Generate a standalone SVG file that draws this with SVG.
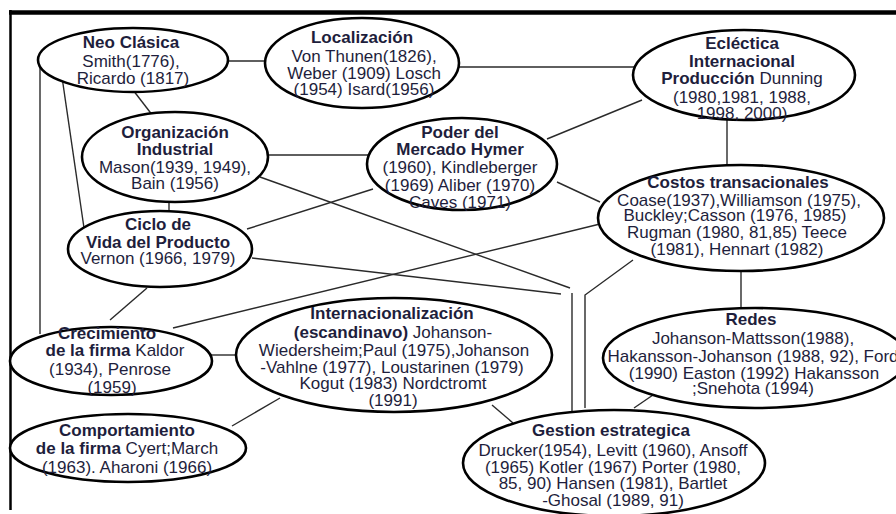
<svg xmlns="http://www.w3.org/2000/svg" width="896" height="514" viewBox="0 0 896 514">
<style>
.frame{stroke:#000;fill:none}
.c line,.c polyline{stroke:#2a2a2a;stroke-width:1.4;fill:none}
.n ellipse{fill:#fff;stroke:#000;stroke-width:2.6}
.n text{font-family:"Liberation Sans",Arial,sans-serif;font-size:17px;fill:#1e1e3c;text-anchor:middle}
.b{font-weight:bold}
</style>
<rect width="896" height="514" fill="#fff"/>
<line class="frame" x1="9" y1="12.5" x2="896" y2="12.5" stroke-width="4.5"/>
<line class="frame" x1="10.5" y1="10" x2="10.5" y2="510" stroke-width="2.5"/>
<g id="connectors" class="c">
<line x1="226" y1="61" x2="266" y2="61"/>
<line x1="458" y1="67" x2="635" y2="67"/>
<line x1="133" y1="90" x2="153" y2="116"/>
<line x1="62" y1="77" x2="84" y2="228"/>
<line x1="40" y1="62" x2="40" y2="334"/>
<line x1="266" y1="155" x2="369" y2="155"/>
<line x1="169" y1="200" x2="169" y2="213"/>
<line x1="260" y1="177" x2="570" y2="288"/>
<line x1="247" y1="229" x2="373" y2="189"/>
<line x1="252" y1="258" x2="561" y2="294"/>
<line x1="572" y1="293" x2="572" y2="412"/>
<polyline points="633,260 585,295 585,408"/>
<line x1="547" y1="139" x2="642" y2="100"/>
<line x1="557" y1="182" x2="600" y2="202"/>
<line x1="727" y1="118" x2="727" y2="167"/>
<line x1="741" y1="270" x2="741" y2="310"/>
<line x1="600" y1="224" x2="173" y2="328"/>
<line x1="147" y1="288" x2="110" y2="320"/>
<line x1="210" y1="355" x2="238" y2="355"/>
<line x1="232" y1="426" x2="280" y2="398"/>
<line x1="492" y1="405" x2="513" y2="423"/>
<line x1="653" y1="395" x2="634" y2="408"/>
</g>
<g id="neo-clasica" class="n">
<ellipse cx="133" cy="60" rx="95" ry="32"/>
<text x="131" y="48"><tspan class="b">Neo Clásica</tspan><tspan x="131" dy="19">Smith(1776),</tspan><tspan x="133" dy="17">Ricardo (1817)</tspan></text>
</g>
<g id="localizacion" class="n">
<ellipse cx="362" cy="63" rx="97" ry="45"/>
<text x="362" y="43"><tspan class="b">Localización</tspan><tspan x="364" dy="19">Von Thunen(1826),</tspan><tspan x="364" dy="17">Weber (1909) Losch</tspan><tspan x="364" dy="16">(1954) Isard(1956)</tspan></text>
</g>
<g id="eclectica" class="n">
<ellipse cx="744" cy="75" rx="111" ry="45"/>
<text x="742" y="49"><tspan class="b">Ecléctica</tspan><tspan x="742" dy="18" class="b">Internacional</tspan><tspan x="742" dy="17"><tspan class="b">Producción</tspan> Dunning</tspan><tspan x="742" dy="19">(1980,1981, 1988,</tspan><tspan x="742" dy="16">1998, 2000)</tspan></text>
</g>
<g id="organizacion-industrial" class="n">
<ellipse cx="175" cy="157" rx="93" ry="45"/>
<text x="175" y="138"><tspan class="b">Organización</tspan><tspan x="175" dy="17" class="b">Industrial</tspan><tspan x="175" dy="18">Mason(1939, 1949),</tspan><tspan x="175" dy="16">Bain (1956)</tspan></text>
</g>
<g id="ciclo-de-vida" class="n">
<ellipse cx="160" cy="249" rx="92" ry="38"/>
<text x="158" y="230"><tspan class="b">Ciclo de</tspan><tspan x="158" dy="18" class="b">Vida del Producto</tspan><tspan x="158" dy="16">Vernon (1966, 1979)</tspan></text>
</g>
<g id="poder-del-mercado" class="n">
<ellipse cx="462" cy="164" rx="95" ry="46"/>
<text x="460" y="138"><tspan class="b">Poder del</tspan><tspan x="460" dy="17" class="b">Mercado Hymer</tspan><tspan x="460" dy="18">(1960), Kindleberger</tspan><tspan x="460" dy="18">(1969) Aliber (1970)</tspan><tspan x="460" dy="17">Caves (1971)</tspan></text>
</g>
<g id="costos-transaccionales" class="n">
<ellipse cx="741" cy="218" rx="143" ry="53"/>
<text x="738" y="188"><tspan class="b">Costos transacionales</tspan><tspan x="739" dy="18">Coase(1937),Williamson (1975),</tspan><tspan x="735" dy="15">Buckley;Casson (1976, 1985)</tspan><tspan x="737" dy="17">Rugman  (1980, 81,85) Teece</tspan><tspan x="737" dy="17">(1981), Hennart (1982)</tspan></text>
</g>
<g id="redes" class="n">
<ellipse cx="755" cy="358" rx="152" ry="50"/>
<text x="751" y="325"><tspan class="b">Redes</tspan><tspan x="753" dy="19">Johanson-Mattsson(1988),</tspan><tspan x="753" dy="18">Hakansson-Johanson (1988, 92), Ford</tspan><tspan x="754" dy="17">(1990) Easton (1992) Hakansson</tspan><tspan x="753" dy="15">;Snehota (1994)</tspan></text>
</g>
<g id="crecimiento" class="n">
<ellipse cx="111" cy="361" rx="101" ry="34"/>
<text x="107" y="339"><tspan class="b">Crecimiento</tspan><tspan x="115" dy="17"><tspan class="b">de la firma</tspan> Kaldor</tspan><tspan x="110" dy="19">(1934), Penrose</tspan><tspan x="112" dy="18">(1959)</tspan></text>
</g>
<g id="comportamiento" class="n">
<ellipse cx="128" cy="448" rx="118" ry="34"/>
<text x="127" y="436"><tspan class="b">Comportamiento</tspan><tspan x="127" dy="18"><tspan class="b">de la firma</tspan> Cyert;March</tspan><tspan x="127" dy="19">(1963). Aharoni (1966)</tspan></text>
</g>
<g id="internacionalizacion" class="n">
<ellipse cx="394" cy="355" rx="158" ry="57"/>
<text x="392" y="319"><tspan class="b">Internacionalización</tspan><tspan x="393" dy="19"><tspan class="b">(escandinavo)</tspan> Johanson-</tspan><tspan x="394" dy="18">Wiedersheim;Paul (1975),Johanson</tspan><tspan x="392" dy="17">-Vahlne (1977), Loustarinen (1979)</tspan><tspan x="393" dy="16">Kogut (1983)  Nordctromt</tspan><tspan x="393" dy="17">(1991)</tspan></text>
</g>
<g id="gestion-estrategica" class="n">
<ellipse cx="614" cy="463" rx="151" ry="53"/>
<text x="611" y="436"><tspan class="b">Gestion estrategica</tspan><tspan x="613" dy="20">Drucker(1954), Levitt (1960), Ansoff</tspan><tspan x="613" dy="17">(1965) Kotler (1967) Porter  (1980,</tspan><tspan x="613" dy="16">85, 90) Hansen (1981), Bartlet</tspan><tspan x="613" dy="17">-Ghosal (1989, 91)</tspan></text>
</g>
</svg>
